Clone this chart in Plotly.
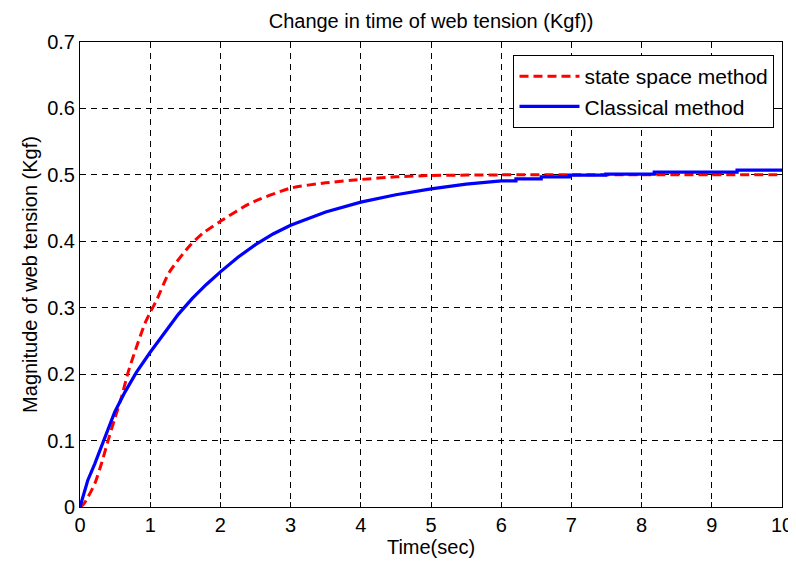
import plotly.graph_objects as go

# State space method (red dashed)
ss_time = [0, 0.05, 0.114, 0.21, 0.305, 0.40, 0.495, 0.59, 0.686, 0.805, 0.924, 1.0, 1.09, 1.27, 1.56, 1.75, 2.0, 2.42, 3.0, 3.5, 4.0, 4.5, 5.0, 6.0, 7.0, 8.0, 9.0, 10.0]
ss_vals = [0, 0.004, 0.015, 0.035, 0.065, 0.100, 0.133, 0.165, 0.203, 0.241, 0.276, 0.293, 0.311, 0.353, 0.393, 0.412, 0.430, 0.457, 0.480, 0.488, 0.493, 0.497, 0.499, 0.5, 0.5, 0.5, 0.5, 0.5]

# Classical method (blue, quantized output)
cl_time = [0, 0.05, 0.11, 0.21, 0.305, 0.40, 0.495, 0.64, 0.805, 1.0, 1.21, 1.4, 1.6, 1.8, 2.0, 2.25, 2.5, 2.75, 3.0, 3.5, 4.0, 4.5, 5.0, 5.5, 6.0,
           6.21, 6.21, 6.57, 6.57, 6.97, 6.97, 7.49, 7.49, 8.18, 8.18, 9.36, 9.36, 10.0]
cl_vals = [0, 0.020, 0.040, 0.065, 0.090, 0.115, 0.143, 0.173, 0.203, 0.233, 0.263, 0.290, 0.314, 0.335, 0.354, 0.376, 0.395, 0.411, 0.424, 0.444, 0.459, 0.470, 0.479, 0.486, 0.491,
           0.491, 0.494, 0.494, 0.497, 0.497, 0.4995, 0.4995, 0.501, 0.501, 0.504, 0.504, 0.507, 0.507]

x_ticks = list(range(0, 11))
y_ticks = [0, 0.1, 0.2, 0.3, 0.4, 0.5, 0.6, 0.7]
y_tick_labels = ["0", "0.1", "0.2", "0.3", "0.4", "0.5", "0.6", "0.7"]

FONT = "Liberation Sans, Arial, sans-serif"

fig = go.Figure()
fig.add_trace(go.Scatter(x=ss_time, y=ss_vals, mode="lines", name="state space method",
                         line=dict(color="#ff0000", width=3, dash="9px,5px", shape="spline", smoothing=0.6)))
fig.add_trace(go.Scatter(x=cl_time, y=cl_vals, mode="lines", name="Classical method",
                         line=dict(color="#0000ff", width=3.2)))

axis_common = dict(showline=True, linecolor="black", linewidth=1, mirror="ticks",
                   ticks="inside", ticklen=5, tickcolor="black", automargin=False,
                   showgrid=True, gridcolor="black", gridwidth=0.7, griddash="6px,5px",
                   zeroline=False, tickfont=dict(family=FONT, size=20, color="black"))

# page body has an 8px margin, so the figure is offset by 8px right/down
fig.update_layout(
    width=788, height=556,
    margin=dict(l=72, r=14, t=34, b=57),
    paper_bgcolor="white", plot_bgcolor="white",
    title=dict(text="Change in time of web tension (Kgf))", x=(72 + 351) / 788, xanchor="center", y=1 - 13 / 556, yanchor="middle",
               font=dict(family=FONT, size=20, color="black")),
    xaxis=dict(range=[0, 10], tickvals=x_ticks,
               title=dict(text="Time(sec)", font=dict(family=FONT, size=20, color="black"), standoff=4),
               **axis_common),
    yaxis=dict(range=[0, 0.7], tickvals=y_ticks, ticktext=y_tick_labels,
               title=dict(text="Magnitude of web tension (Kgf)", font=dict(family=FONT, size=20, color="black"), standoff=4),
               **axis_common),
    legend=dict(x=0.9893, y=0.972, xanchor="right", yanchor="top",
                bgcolor="white", bordercolor="black", borderwidth=1,
                font=dict(family=FONT, size=21, color="black"),
                tracegroupgap=0, itemwidth=60),
    showlegend=True,
)

fig.write_html("out.html")
